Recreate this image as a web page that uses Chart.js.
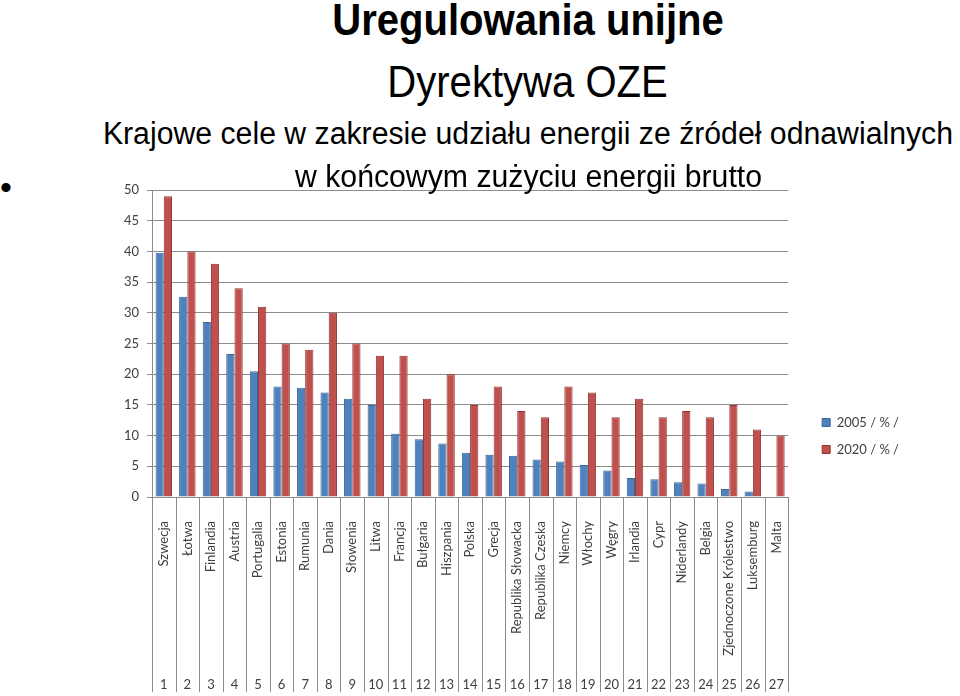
<!DOCTYPE html>
<html lang="pl">
<head>
  <meta charset="UTF-8">
  <title>Uregulowania unijne - Dyrektywa OZE</title>
  <script src="https://cdn.jsdelivr.net/npm/chart.js@4"></script>
  <style>
    body {
      margin: 0;
      width: 960px;
      height: 696px;
      background: #fff;
      position: relative;
      overflow: hidden;
      font-family: "Liberation Sans", Arial, sans-serif;
      color: #000;
    }

    .line {
      position: absolute;
      left: -272px;
      width: 1600px;
      text-align: center;
      white-space: nowrap;
      z-index: 2;
    }

    .line span {
      display: inline-block;
    }

    #t1 { top: -3px; font-size: 45px; line-height: 45px; font-weight: bold; }
    #t2 { top: 59px; font-size: 45px; line-height: 45px; }
    #t1 span, #t2 span { transform: scaleX(0.89); }
    #t3 { top: 119px; font-size: 31px; line-height: 30px; }
    #t4 { top: 162px; font-size: 31px; line-height: 30px; }
    #t3 span, #t4 span { transform: scaleX(0.975); }

    .bullet {
      position: absolute;
      left: 0px;
      top: 168px;
      font-size: 34px;
    }

    .chart-box {
      position: absolute;
      left: 0;
      top: 170px;
      width: 960px;
      height: 526px;
      z-index: 1;
    }
  </style>
</head>
<body>
  <div class="line" id="t1"><span>Uregulowania unijne</span></div>
  <div class="line" id="t2"><span>Dyrektywa OZE</span></div>
  <div class="line" id="t3"><span>Krajowe cele w zakresie udziału energii ze źródeł odnawialnych</span></div>
  <div class="line" id="t4"><span>w końcowym zużyciu energii brutto</span></div>
  <div class="bullet">•</div>

  <div class="chart-box">
    <canvas id="chartOze"></canvas>
  </div>

  <script>
    const kraje = ['Szwecja', 'Łotwa', 'Finlandia', 'Austria', 'Portugalia', 'Estonia', 'Rumunia', 'Dania',
      'Słowenia', 'Litwa', 'Francja', 'Bułgaria', 'Hiszpania', 'Polska', 'Grecja', 'Republika Słowacka',
      'Republika Czeska', 'Niemcy', 'Włochy', 'Węgry', 'Irlandia', 'Cypr', 'Niderlandy', 'Belgia',
      'Zjednoczone Królestwo', 'Luksemburg', 'Malta'];
    const numery = ['1', '2', '3', '4', '5', '6', '7', '8', '9', '10', '11', '12', '13', '14', '15', '16',
      '17', '18', '19', '20', '21', '22', '23', '24', '25', '26', '27'];
    const udzial2005 = [39.8, 32.6, 28.5, 23.3, 20.5, 18.0, 17.8, 17.0, 16.0, 15.0, 10.3, 9.4, 8.7, 7.2,
      6.9, 6.7, 6.1, 5.8, 5.2, 4.3, 3.1, 2.9, 2.4, 2.2, 1.3, 0.9, 0.0];
    const cel2020 = [49, 40, 38, 34, 31, 25, 24, 30, 25, 23, 23, 16, 20, 15, 18, 14, 13, 18, 17, 13, 16,
      13, 14, 13, 15, 11, 10];
    const osY = [0, 5, 10, 15, 20, 25, 30, 35, 40, 45, 50];

    const fontOsi = { family: 'Lato, "Open Sans", sans-serif', size: 13 };

    // linie oddzielające kategorie pod osią X (jak w Excelu)
    const liniePodzialu = {
      id: 'liniePodzialu',
      afterDraw(chart) {
        const x = chart.scales.x;
        const ctx = chart.ctx;
        const szer = (x.right - x.left) / kraje.length;
        ctx.save();
        ctx.strokeStyle = '#8c8c8c';
        ctx.lineWidth = 1;
        for (let i = 0; i <= kraje.length; i++) {
          const px = Math.round(x.left + i * szer) + 0.5;
          ctx.beginPath();
          ctx.moveTo(px, chart.chartArea.bottom);
          ctx.lineTo(px, chart.height - 4);
          ctx.stroke();
        }
        ctx.restore();
      }
    };

    // legenda troche wyzej niz srodek
    const legendaWyzej = {
      id: 'legendaWyzej',
      afterLayout(chart) {
        chart.legend.top -= 7;
        chart.legend.bottom -= 7;
      }
    };

    new Chart(document.getElementById('chartOze'), {
      type: 'bar',
      data: {
        labels: kraje,
        datasets: [
          {
            label: '2005 / % /',
            data: udzial2005,
            backgroundColor: '#4f81bd',
            borderColor: '#3a6699',
            borderWidth: 1,
            xAxisID: 'x'
          },
          {
            label: '2020 / % /',
            data: cel2020,
            backgroundColor: '#c0504d',
            borderColor: '#8e3532',
            borderWidth: 1,
            xAxisID: 'x'
          }
        ]
      },
      options: {
        responsive: true,
        maintainAspectRatio: false,
        animation: false,
        layout: { padding: { left: 122, right: 51, top: 20, bottom: 0 } },
        datasets: { bar: { categoryPercentage: 0.7, barPercentage: 1 } },
        plugins: {
          legend: {
            position: 'right',
            labels: {
              boxWidth: 8,
              boxHeight: 8,
              padding: 14,
              color: '#404040',
              font: fontOsi
            }
          },
          tooltip: { enabled: false }
        },
        scales: {
          y: {
            min: 0,
            max: 50,
            afterFit: s => { s.width = 30; },
            afterBuildTicks: s => { s.ticks = osY.map(v => ({ value: v })); },
            ticks: { color: '#404040', font: fontOsi, padding: 8 },
            grid: { color: '#8c8c8c', tickLength: 5 },
            border: { color: '#8c8c8c' }
          },
          x: {
            position: 'bottom',
            afterFit: s => { s.height = 160; },
            ticks: {
              autoSkip: false,
              minRotation: 90,
              maxRotation: 90,
              padding: 16,
              color: '#404040',
              font: fontOsi
            },
            grid: { display: false },
            border: { color: '#8c8c8c' }
          },
          nr: {
            type: 'category',
            position: 'bottom',
            labels: numery,
            afterFit: s => { s.height = 39; },
            ticks: { autoSkip: false, maxRotation: 0, padding: 12, color: '#404040', font: fontOsi },
            grid: { display: false },
            border: { display: false }
          },
          odstep: {
            position: 'right',
            afterFit: s => { s.width = 20; },
            ticks: { display: false },
            grid: { display: false },
            border: { display: false }
          }
        }
      },
      plugins: [liniePodzialu, legendaWyzej]
    });
  </script>
</body>
</html>
